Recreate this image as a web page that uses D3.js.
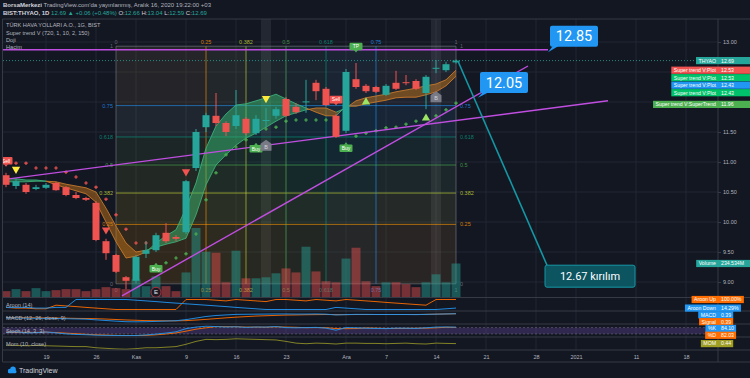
<!DOCTYPE html>
<html>
<head>
<meta charset="utf-8">
<title>THYAO 1G</title>
<script src="https://cdn.jsdelivr.net/npm/d3@7"></script>
<style>
  body { margin: 0; background: #131722; }
  svg { display: block; font-family: "Liberation Sans", Arial, sans-serif; }
</style>
</head>
<body>
<svg id="chart" width="750" height="378"></svg>
<script>
// ---- values (daily bars, index 0 = 13 Oct 2020) ----
var barDates = ["2020-10-13","2020-10-14","2020-10-15","2020-10-16","2020-10-19","2020-10-20","2020-10-21",
    "2020-10-22","2020-10-23","2020-10-26","2020-10-27","2020-10-28","2020-10-30","2020-11-02","2020-11-03",
    "2020-11-04","2020-11-05","2020-11-06","2020-11-09","2020-11-10","2020-11-11","2020-11-12","2020-11-13",
    "2020-11-16","2020-11-17","2020-11-18","2020-11-19","2020-11-20","2020-11-23","2020-11-24","2020-11-25",
    "2020-11-26","2020-11-27","2020-11-30","2020-12-01","2020-12-02","2020-12-03","2020-12-04","2020-12-07",
    "2020-12-08","2020-12-09","2020-12-10","2020-12-11","2020-12-14","2020-12-15","2020-12-16"];
var opens  = [10.78,10.60,10.62,10.55,10.57,10.65,10.58,10.45,10.40,10.32,9.68,9.45,9.08,9.02,9.47,9.53,9.82,9.75,
    9.83,10.90,11.58,11.77,11.65,11.60,11.72,11.48,11.70,11.77,12.05,11.92,12.00,12.32,12.22,11.77,11.52,12.38,
    12.27,12.25,12.12,12.32,12.33,12.35,12.15,12.57,12.53,12.66];
var highs  = [10.82,10.72,10.65,10.62,10.65,10.67,10.60,10.50,10.42,10.35,9.72,9.47,9.10,9.45,9.68,9.82,9.98,9.78,
    10.70,11.55,11.82,12.15,11.68,12.20,11.75,11.78,11.90,11.92,12.08,11.98,12.37,12.37,12.25,11.80,12.55,12.65,
    12.30,12.27,12.30,12.52,12.45,12.38,12.45,12.70,12.67,12.71];
var lows   = [10.58,10.55,10.47,10.53,10.55,10.52,10.43,10.38,10.35,9.68,9.37,9.15,8.88,8.98,9.40,9.50,9.65,9.68,
    9.80,10.85,11.50,11.60,11.43,11.55,11.45,11.45,11.58,11.72,11.75,11.80,11.82,12.03,11.93,11.40,11.48,12.22,
    12.15,12.15,12.10,12.20,12.28,12.20,11.88,12.48,12.50,12.64];
var closes = [10.62,10.68,10.50,10.58,10.62,10.53,10.45,10.40,10.37,9.70,9.48,9.17,9.02,9.42,9.53,9.78,9.68,9.72,
    10.68,11.50,11.78,11.65,11.50,11.78,11.48,11.72,11.70,11.88,11.77,11.83,12.01,12.18,11.95,11.42,12.50,12.25,
    12.18,12.17,12.27,12.22,12.32,12.22,12.42,12.57,12.63,12.69];
var volumes = [41,55,41,62,41,48,55,55,41,55,69,62,55,124,76,145,76,41,172,483,317,310,103,324,131,131,138,166,
    200,172,352,179,110,103,269,345,110,76,103,103,90,69,103,159,103,234.534]; // millions

// Super trend V band lines and trailing stop
var stFast = [10.73,10.72,10.70,10.70,10.68,10.62,10.57,10.52,10.47,10.33,10.00,9.67,9.40,9.43,9.50,9.65,9.77,9.87,
    10.23,10.65,11.23,11.60,11.80,11.95,11.97,12.02,12.07,12.13,12.05,11.97,11.90,11.83,11.77,11.77,11.93,11.93,
    11.97,12.00,12.03,12.07,12.08,12.08,12.12,12.17,12.27,12.43];
var stSlow = [10.67,10.67,10.67,10.68,10.68,10.67,10.63,10.60,10.57,10.50,10.23,9.93,9.65,9.50,9.53,9.58,9.63,9.67,
    9.73,10.12,10.62,10.95,11.12,11.28,11.40,11.48,11.58,11.68,11.77,11.82,11.87,11.90,11.90,11.83,11.90,12.02,
    12.07,12.10,12.13,12.17,12.20,12.23,12.27,12.30,12.37,12.53];
var trailDown = [null,10.98,10.98,10.90,10.90,10.90,10.83,10.75,10.65,10.58,10.38,10.12,9.88,9.65,9.65,null,null,
    null,null,null,null,null,null,null,null,null,null,null,null,null,null,null,null,null,null,null,null,null,null,
    null,null,null,null,null,null,null];
var trailUp = [null,null,null,null,null,null,null,null,null,null,null,null,null,null,null,null,9.32,9.40,9.47,9.80,
    10.37,10.82,11.12,11.25,11.37,null,11.55,11.58,11.68,11.70,11.70,11.70,11.70,null,null,11.43,11.48,11.52,11.57,
    11.58,11.63,11.68,11.73,11.77,11.87,11.98];

var triBars = [1, 10, 18, 26, 36, 42];
var triPrices = [10.88, 9.87, 10.84, 12.06, 12.00, 11.73];
var triUp = [false, false, false, false, true, true];
var triColors = ["#ffeb3b", "#f05350", "#f05350", "#ffeb3b", "#9be564", "#9be564"];

var signalBars = [0, 33, 15, 25, 34, 35];
var signalPrices = [11.02, 12.04, 9.22, 11.22, 11.23, 12.925];
var signalTexts = ["Sell", "Sell", "Buy", "Buy", "Buy", "TP"];
var signalColors = ["#f05350", "#f05350", "#4caf50", "#4caf50", "#4caf50", "#4caf50"];

var houseBars = [26, 43];
var housePrices = [11.27, 12.08];
var dojiBars = [26, 43];
var earningsBar = 15, earningsPrice = 8.83;

// Gann box
var gannLevels = [0, 0.25, 0.382, 0.5, 0.618, 0.75, 1];
var gannColors = ["#787b86", "#ff9800", "#cddc39", "#4caf50", "#089981", "#2196f3", "#787b86"];
var gannStartBar = 11, gannEndBar = 45, gannLow = 8.97, gannHigh = 12.93;

// trend lines (bar index, price)
var trendFromBar = [-1, -0.6, 11.6];
var trendFromPrice = [12.87, 10.70, 8.77];
var trendToBar = [54.2, 60.2, 52.2];
var trendToPrice = [12.87, 12.02, 12.60];

// callouts
var calloutTexts = ["12.85", "12.05"];
var calloutBoxBar = [54.4, 47.4];
var calloutBoxPrice = [13.27, 12.50];
var calloutTipBar = [54.2, 47.2];
var calloutTipPrice = [12.83, 12.07];
var breakText = "12.67 kırılım";
var breakFromBar = 45.2, breakFromPrice = 12.68, breakBoxBar = 53.9, breakBoxPrice = 9.28;

// indicators
var aroonUp = [21,14,14,7,7,43,36,29,21,14,7,0,0,0,0,0,0,0,100,100,100,93,86,100,93,86,79,100,100,93,86,100,93,86,
    100,93,86,79,71,64,57,50,43,100,100,100];
var aroonDown = [21,21,21,14,14,21,21,100,100,100,100,100,100,93,86,79,71,64,57,50,43,36,29,21,14,7,0,0,0,0,0,0,0,
    21,14,7,0,0,0,0,0,0,0,0,7,14.29];
var macd = [0.02,0.01,-0.01,-0.02,-0.03,-0.04,-0.06,-0.08,-0.10,-0.16,-0.22,-0.28,-0.33,-0.34,-0.33,-0.30,-0.27,
    -0.24,-0.14,0.00,0.14,0.23,0.28,0.33,0.34,0.35,0.36,0.37,0.37,0.36,0.36,0.37,0.35,0.28,0.31,0.33,0.33,0.32,0.32,
    0.32,0.32,0.31,0.33,0.35,0.37,0.39];
var macdSignal = [0.05,0.04,0.03,0.02,0.01,0.00,-0.01,-0.03,-0.04,-0.06,-0.09,-0.13,-0.17,-0.20,-0.23,-0.24,-0.25,
    -0.25,-0.23,-0.18,-0.12,-0.05,0.02,0.08,0.13,0.18,0.21,0.24,0.27,0.28,0.30,0.31,0.32,0.31,0.31,0.32,0.32,0.32,
    0.32,0.32,0.32,0.32,0.33,0.35,0.37,0.39];
var stochK = [35,40,30,32,38,30,20,15,12,8,6,5,4,5,10,18,28,40,70,85,93,90,85,88,82,86,85,90,80,78,80,82,75,55,80,
    78,74,72,70,75,74,72,78,85,86,84.1];
var stochD = [38,36,35,34,37,33,27,22,16,12,9,6,5,5,6,11,19,29,46,65,78,89,89,88,85,85,84,87,85,83,79,80,79,71,70,
    71,77,75,72,72,73,74,75,78,83,82.03];
var momentum = [-0.1,-0.2,-0.3,-0.2,-0.3,-0.4,-0.5,-0.6,-0.6,-1.0,-1.2,-1.4,-1.5,-1.3,-1.0,-1.0,-0.8,-0.6,0.2,1.2,
    1.9,1.8,1.9,2.1,2.0,1.9,1.8,1.7,1.2,0.6,0.4,0.6,0.5,0.3,0.6,0.6,0.5,0.5,0.4,0.5,0.6,0.4,0.3,0.6,0.5,0.44];

// axes
var dateTickBars = [4, 9, 13, 18, 23, 28, 34, 38, 43, 48, 53, 57, 63, 68];
var dateTickLabels = ["19", "26", "Kas", "9", "16", "23", "Ara", "7", "14", "21", "28", "2021", "11", "18"];
var priceTicks = [9.0, 9.5, 10.0, 10.5, 11.0, 11.5, 12.0, 12.5, 13.0];

// price-axis tags
var tagNames = ["THYAO", "Super trend V:Plot", "Super trend V:Plot", "Super trend V:Plot", "Super trend V:Plot",
    "Super trend V:SuperTrend"];
var tagValues = [12.69, 12.53, 12.53, 12.43, 12.43, 11.96];
var tagColors = ["#26a69a", "#f05350", "#00c26a", "#2196f3", "#00c26a", "#4caf50"];
var indTagNames = ["Aroon Up", "Aroon Down", "MACD", "Signal", "%K", "%D", "MOM"];
var indTagTexts = ["100.00%", "14.29%", "0.39", "0.39", "84.10", "82.03", "0.44"];
var indTagColors = ["#ff6d00", "#2196f3", "#2196f3", "#ff6d00", "#2196f3", "#ff6d00", "#9e9d24"];

// ---- layout ----
var svg = d3.select("#chart");
var axisX = 718, paneTop = 19, mainBottom = 297.5, timeAxisY = 350, bottomY = 362;
var gridColor = "#232733", sepColor = "#363a45", textColor = "#b2b5be";
var upColor = "#26a69a", downColor = "#ef5350";

var x = d3.scaleLinear().domain([0, 70]).range([6, 706]);
var y = d3.scaleLinear().domain([9, 13]).range([282, 42]);
var yVol = d3.scaleLinear().domain([0, 483]).range([297, 228]);
var yAroon = d3.scaleLinear().domain([0, 100]).range([309.5, 299.5]);
var yMacd = d3.scaleLinear().domain([-0.4, 0.5]).range([322.5, 312.5]);
var yStoch = d3.scaleLinear().domain([0, 100]).range([336, 325.5]);
var yMom = d3.scaleLinear().domain([-1.6, 2.2]).range([349.5, 338.5]);
var idx = d3.range(barDates.length);

svg.append("rect").attr("width", 750).attr("height", 378).attr("fill", "#131722");

var defs = svg.append("defs");
defs.append("clipPath").attr("id", "mainClip").append("rect")
    .attr("x", 3).attr("y", paneTop).attr("width", axisX - 3).attr("height", mainBottom - paneTop);
defs.append("clipPath").attr("id", "stAbove").append("path")
    .attr("d", d3.area().x(function (i) { return x(i); }).y0(0)
        .y1(function (i) { return y(stSlow[i]); })(idx));
defs.append("clipPath").attr("id", "stBelow").append("path")
    .attr("d", d3.area().x(function (i) { return x(i); })
        .y0(function (i) { return y(stSlow[i]); }).y1(400)(idx));

// grid
var grid = svg.append("g");
grid.selectAll(".vg").data(dateTickBars.filter(function (d) { return x(d) < axisX; }))
    .enter().append("line")
    .attr("x1", function (d) { return x(d); }).attr("x2", function (d) { return x(d); })
    .attr("y1", paneTop).attr("y2", timeAxisY).attr("stroke", gridColor);
grid.selectAll(".hg").data(priceTicks).enter().append("line")
    .attr("x1", 3).attr("x2", axisX)
    .attr("y1", function (d) { return y(d); }).attr("y2", function (d) { return y(d); })
    .attr("stroke", gridColor);

var main = svg.append("g").attr("clip-path", "url(#mainClip)");

// doji highlight columns
main.selectAll(".doji").data(dojiBars).enter().append("rect")
    .attr("x", function (d) { return x(d) - 5; }).attr("width", 10)
    .attr("y", paneTop).attr("height", mainBottom - paneTop)
    .attr("fill", "#ffffff").attr("opacity", 0.07);

// Gann box
var gbx = function (l) { return x(Math.round(gannStartBar + l * (gannEndBar - gannStartBar))); };
var gby = function (l) { return y(gannLow + l * (gannHigh - gannLow)); };
var gann = main.append("g");
gannLevels.slice(1).forEach(function (l, k) {
    var prev = gannLevels[k];
    gann.append("rect").attr("x", gbx(0)).attr("width", gbx(1) - gbx(0))
        .attr("y", gby(l)).attr("height", gby(prev) - gby(l))
        .attr("fill", gannColors[k + 1]).attr("opacity", 0.08);
    gann.append("rect").attr("x", gbx(prev)).attr("width", gbx(l) - gbx(prev))
        .attr("y", gby(1)).attr("height", gby(0) - gby(1))
        .attr("fill", gannColors[k + 1]).attr("opacity", 0.05);
});
gannLevels.forEach(function (l, k) {
    gann.append("line").attr("x1", gbx(0)).attr("x2", gbx(1)).attr("y1", gby(l)).attr("y2", gby(l))
        .attr("stroke", gannColors[k]).attr("stroke-opacity", 0.6);
    gann.append("line").attr("x1", gbx(l)).attr("x2", gbx(l)).attr("y1", gby(0)).attr("y2", gby(1))
        .attr("stroke", gannColors[k]).attr("stroke-opacity", 0.6);
    var txt = String(l);
    gann.append("text").attr("x", gbx(l)).attr("y", gby(1) - 2).attr("text-anchor", "middle")
        .attr("font-size", 5.5).attr("fill", gannColors[k]).attr("fill-opacity", 0.8).text(txt);
    gann.append("text").attr("x", gbx(l)).attr("y", gby(0) + 8).attr("text-anchor", "middle")
        .attr("font-size", 5.5).attr("fill", gannColors[k]).attr("fill-opacity", 0.8).text(txt);
    gann.append("text").attr("x", gbx(0) - 3).attr("y", gby(l) + 2).attr("text-anchor", "end")
        .attr("font-size", 5.5).attr("fill", gannColors[k]).attr("fill-opacity", 0.8).text(txt);
    gann.append("text").attr("x", gbx(1) + 4).attr("y", gby(l) + 2).attr("text-anchor", "start")
        .attr("font-size", 5.5).attr("fill", gannColors[k]).attr("fill-opacity", 0.8).text(txt);
});

// volume
main.selectAll(".vol").data(idx).enter().append("rect")
    .attr("x", function (i) { return x(i) - 4.5; }).attr("width", 9)
    .attr("y", function (i) { return yVol(volumes[i]); })
    .attr("height", function (i) { return yVol(0) - yVol(volumes[i]); })
    .attr("fill", function (i) { return closes[i] >= opens[i] ? upColor : downColor; })
    .attr("opacity", 0.45);

// super trend band
var band = d3.area().x(function (i) { return x(i); })
    .y0(function (i) { return y(stFast[i]); }).y1(function (i) { return y(stSlow[i]); });
main.append("g").attr("clip-path", "url(#stAbove)").append("path")
    .attr("d", band(idx)).attr("fill", "rgba(60,200,120,0.45)");
main.append("g").attr("clip-path", "url(#stBelow)").append("path")
    .attr("d", band(idx)).attr("fill", "rgba(210,125,25,0.45)");
[stFast, stSlow].forEach(function (series) {
    main.selectAll(null).data(idx.slice(1)).enter().append("line")
        .attr("x1", function (i) { return x(i - 1); }).attr("x2", function (i) { return x(i); })
        .attr("y1", function (i) { return y(series[i - 1]); }).attr("y2", function (i) { return y(series[i]); })
        .attr("stroke", function (i) { return stFast[i] >= stSlow[i] ? "#3bb07a" : "#c8782a"; })
        .attr("stroke-width", 0.9);
});

// trailing stop crosses
var cross = d3.symbol().type(d3.symbolCross).size(7);
main.selectAll(".tdn").data(idx.filter(function (i) { return trailDown[i] !== null; }))
    .enter().append("path").attr("d", cross)
    .attr("transform", function (i) { return "translate(" + x(i) + "," + y(trailDown[i]) + ")"; })
    .attr("fill", "#f05350");
main.selectAll(".tup").data(idx.filter(function (i) { return trailUp[i] !== null; }))
    .enter().append("path").attr("d", cross)
    .attr("transform", function (i) { return "translate(" + x(i) + "," + y(trailUp[i]) + ")"; })
    .attr("fill", "#4caf50");

// trend lines
main.selectAll(".trend").data(trendFromBar).enter().append("line")
    .attr("x1", function (d, k) { return x(trendFromBar[k]); })
    .attr("y1", function (d, k) { return y(trendFromPrice[k]); })
    .attr("x2", function (d, k) { return x(trendToBar[k]); })
    .attr("y2", function (d, k) { return y(trendToPrice[k]); })
    .attr("stroke", "#c04ee0").attr("stroke-width", 1.4);

// candles
var candles = main.selectAll(".candle").data(idx).enter().append("g");
candles.append("line")
    .attr("x1", function (i) { return x(i); }).attr("x2", function (i) { return x(i); })
    .attr("y1", function (i) { return y(highs[i]); }).attr("y2", function (i) { return y(lows[i]); })
    .attr("stroke", function (i) { return closes[i] >= opens[i] ? upColor : downColor; });
candles.append("rect")
    .attr("x", function (i) { return x(i) - 3.5; }).attr("width", 7)
    .attr("y", function (i) { return y(Math.max(opens[i], closes[i])); })
    .attr("height", function (i) { return Math.max(1, Math.abs(y(opens[i]) - y(closes[i]))); })
    .attr("fill", function (i) { return closes[i] >= opens[i] ? upColor : downColor; });

// triangles
main.selectAll(".tri").data(triBars).enter().append("path")
    .attr("d", d3.symbol().type(d3.symbolTriangle).size(30))
    .attr("transform", function (d, k) {
        return "translate(" + x(d) + "," + y(triPrices[k]) + ")" + (triUp[k] ? "" : " rotate(180)");
    })
    .attr("fill", function (d, k) { return triColors[k]; });

// buy / sell / tp labels
var sig = main.selectAll(".sig").data(signalBars).enter().append("g")
    .attr("transform", function (d, k) { return "translate(" + x(d) + "," + y(signalPrices[k]) + ")"; });
sig.append("path")
    .attr("d", function (d, k) {
        return signalTexts[k] === "Buy" ? "M-2,-3.5L0,-6L2,-3.5Z" : "M-2,3.5L0,6L2,3.5Z";
    })
    .attr("fill", function (d, k) { return signalColors[k]; });
sig.append("rect").attr("x", -6.5).attr("y", -3.8).attr("width", 13).attr("height", 7.6).attr("rx", 1)
    .attr("fill", function (d, k) { return signalColors[k]; });
sig.append("text").attr("text-anchor", "middle").attr("y", 1.8).attr("font-size", 5)
    .attr("fill", "#ffffff").text(function (d, k) { return signalTexts[k]; });

var house = main.selectAll(".house").data(houseBars).enter().append("g")
    .attr("transform", function (d, k) { return "translate(" + x(d) + "," + y(housePrices[k]) + ")"; });
house.append("path").attr("d", "M0,-6L5.5,-2L5.5,5L-5.5,5L-5.5,-2Z").attr("fill", "#787b86");
house.append("text").attr("text-anchor", "middle").attr("y", 3).attr("font-size", 5.5)
    .attr("fill", "#d1d4dc").text("B");

var earn = main.append("g")
    .attr("transform", "translate(" + x(earningsBar) + "," + y(earningsPrice) + ")");
earn.append("circle").attr("r", 5).attr("fill", "#1e1a24").attr("stroke", "#b03040").attr("stroke-width", 1);
earn.append("text").attr("text-anchor", "middle").attr("y", 2.2).attr("font-size", 6)
    .attr("fill", "#e8e8ee").text("E");

// last price line
var lastY = y(closes[closes.length - 1]);
svg.append("line").attr("x1", 3).attr("x2", axisX).attr("y1", lastY).attr("y2", lastY)
    .attr("stroke", upColor).attr("stroke-dasharray", "1,2").attr("stroke-width", 0.8);

// callouts
calloutTexts.forEach(function (t, k) {
    var bx = x(calloutBoxBar[k]), by = y(calloutBoxPrice[k]);
    svg.append("path")
        .attr("d", "M" + (bx + 3) + "," + (by + 20) + "L" + x(calloutTipBar[k]) + "," + y(calloutTipPrice[k]) +
            "L" + (bx + 9) + "," + (by + 20) + "Z")
        .attr("fill", "#2196f3");
    svg.append("rect").attr("x", bx).attr("y", by).attr("width", 48).attr("height", 21).attr("rx", 2)
        .attr("fill", "#2196f3");
    svg.append("text").attr("x", bx + 24).attr("y", by + 15.5).attr("text-anchor", "middle")
        .attr("font-size", 14.5).attr("font-family", "Roboto, sans-serif").attr("fill", "#ffffff").text(t);
});
var bbx = x(breakBoxBar), bby = y(breakBoxPrice);
svg.append("line").attr("x1", x(breakFromBar)).attr("y1", y(breakFromPrice)).attr("x2", bbx + 2).attr("y2", bby)
    .attr("stroke", "#1597a5").attr("stroke-width", 1.6);
svg.append("rect").attr("x", bbx).attr("y", bby).attr("width", 90).attr("height", 22).attr("rx", 2)
    .attr("fill", "#0c5460").attr("stroke", "#1597a5").attr("stroke-width", 1);
svg.append("text").attr("x", bbx + 45).attr("y", bby + 15).attr("text-anchor", "middle")
    .attr("font-size", 11).attr("font-family", "Roboto, sans-serif").attr("fill", "#ffffff").text(breakText);

// ---- indicator panes ----
svg.append("rect").attr("x", 3).attr("width", axisX - 3)
    .attr("y", yStoch(80)).attr("height", yStoch(20) - yStoch(80))
    .attr("fill", "#7e57c2").attr("opacity", 0.28);
[80, 20].forEach(function (v) {
    svg.append("line").attr("x1", 3).attr("x2", axisX).attr("y1", yStoch(v)).attr("y2", yStoch(v))
        .attr("stroke", "#787b86").attr("stroke-dasharray", "2,2").attr("stroke-width", 0.5);
});
var indSeries = [
    [aroonUp, yAroon, "#ff6d00"], [aroonDown, yAroon, "#2196f3"],
    [macdSignal, yMacd, "#ff6d00"], [macd, yMacd, "#2196f3"],
    [stochD, yStoch, "#ff6d00"], [stochK, yStoch, "#2196f3"],
    [momentum, yMom, "#8f8f26"]
];
indSeries.forEach(function (s) {
    svg.append("path")
        .attr("d", d3.line().x(function (i) { return x(i); }).y(function (i) { return s[1](s[0][i]); })(idx))
        .attr("fill", "none").attr("stroke", s[2]).attr("stroke-width", 0.9);
});

// pane separators and frame
[paneTop, mainBottom, 311, 324, 337, timeAxisY, bottomY].forEach(function (yy) {
    svg.append("line").attr("x1", 2.5).attr("x2", 750).attr("y1", yy).attr("y2", yy).attr("stroke", sepColor);
});
svg.append("line").attr("x1", 2.5).attr("x2", 2.5).attr("y1", paneTop).attr("y2", bottomY).attr("stroke", sepColor);
svg.append("line").attr("x1", axisX).attr("x2", axisX).attr("y1", paneTop).attr("y2", bottomY).attr("stroke", sepColor);

// axes
var xAxis = d3.axisBottom(x).tickValues(dateTickBars)
    .tickFormat(function (d, i) { return dateTickLabels[i]; }).tickSize(0).tickPadding(5);
var gX = svg.append("g").attr("transform", "translate(0," + timeAxisY + ")").call(xAxis);
gX.select(".domain").remove();
gX.attr("font-size", 5.5).attr("font-family", null);
gX.selectAll("text").attr("fill", textColor);

function stack(ys, gap) {
    var out = [];
    ys.forEach(function (v, k) { out.push(k > 0 && v < out[k - 1] + gap ? out[k - 1] + gap : v); });
    return out;
}
var tagYs = stack(tagValues.map(function (v) { return y(v); }), 7.5);

var yAxis = d3.axisRight(y).tickValues(priceTicks).tickFormat(d3.format(".2f")).tickSize(3).tickPadding(2);
var gY = svg.append("g").attr("transform", "translate(" + axisX + ",0)").call(yAxis);
gY.select(".domain").remove();
gY.attr("font-size", 5.5).attr("font-family", null);
gY.selectAll("text").attr("fill", textColor);
gY.selectAll("line").attr("stroke", sepColor);
// tick labels hidden under the price tags, as on the original
gY.selectAll(".tick").filter(function (d) {
    return tagYs.some(function (t) { return Math.abs(y(d) - t) < 6.5; });
}).select("text").remove();

// pane legends
var legend = svg.append("g").attr("font-size", 5.6).attr("fill", textColor);
[["TÜRK HAVA YOLLARI A.O., 1G, BIST", 27], ["Super trend V (720, 1, 10, 2, 150)", 35], ["Doji", 42],
    ["Hacim", 48.5], ["Aroon (14)", 306.5], ["MACD (12, 26, close, 9)", 320], ["Stoch (14, 3, 3)", 333],
    ["Mom (10, close)", 346]].forEach(function (l) {
    legend.append("text").attr("x", 6).attr("y", l[1]).text(l[0]);
});

// price-axis tags
function drawTag(name, value, color, yy, rightEdge) {
    var g = svg.append("g");
    var r = g.append("rect").attr("y", yy - 3.6).attr("height", 7.2).attr("fill", color);
    var n = g.append("text").attr("x", axisX - 2).attr("y", yy + 1.9).attr("text-anchor", "end")
        .attr("font-size", 5.2).attr("fill", "#ffffff").text(name);
    var v = g.append("text").attr("x", axisX + 3).attr("y", yy + 1.9)
        .attr("font-size", 5.2).attr("fill", "#ffffff").text(value);
    var nb = n.node().getBBox(), vb = v.node().getBBox();
    var right = rightEdge || (vb.x + vb.width + 2);
    r.attr("x", nb.x - 2.5).attr("width", right - nb.x + 2.5);
}
tagNames.forEach(function (nm, k) {
    drawTag(nm, tagValues[k].toFixed(2), tagColors[k], tagYs[k], 750);
});
drawTag("Volume", "234.534M", upColor, yVol(volumes[volumes.length - 1]), 750);

var indYs = [yAroon(100), yAroon(14.29), yMacd(0.39), yMacd(0.39), yStoch(84.1), yStoch(82.03), yMom(0.44)];
indYs = stack(indYs, 6.8);
indTagNames.forEach(function (nm, k) {
    drawTag(nm, indTagTexts[k], indTagColors[k], indYs[k]);
});

// header
var h1 = svg.append("text").attr("x", 3).attr("y", 7).attr("font-size", 6).attr("fill", textColor);
h1.append("tspan").attr("font-weight", "bold").attr("fill", "#d1d4dc").text("BorsaMerkezi");
h1.append("tspan").text(" TradingView.com'da yayınlanmış, Aralık 16, 2020 19:22:00 +03");
var h2 = svg.append("text").attr("x", 3).attr("y", 15).attr("font-size", 6).attr("fill", textColor);
h2.append("tspan").attr("font-weight", "bold").attr("fill", "#d1d4dc").text("BIST:THYAO, 1D");
h2.append("tspan").attr("fill", upColor).text(" 12.69 ▲ +0.06 (+0.48%) ");
[["O:", "12.66"], ["H:", "13.04"], ["L:", "12.59"], ["C:", "12.69"]].forEach(function (p) {
    h2.append("tspan").attr("fill", "#d1d4dc").text(" " + p[0]);
    h2.append("tspan").attr("fill", upColor).text(p[1]);
});

// logo
var logo = svg.append("g").attr("transform", "translate(8,370)");
logo.append("circle").attr("cx", 2).attr("cy", 1).attr("r", 2.2).attr("fill", "#2196f3");
logo.append("circle").attr("cx", 5).attr("cy", -0.8).attr("r", 2.8).attr("fill", "#2196f3");
logo.append("rect").attr("x", 0).attr("y", 0).attr("width", 8.5).attr("height", 3.2).attr("rx", 1.5).attr("fill", "#2196f3");
svg.append("text").attr("x", 19).attr("y", 373).attr("font-size", 7).attr("fill", "#d1d4dc").text("TradingView");
</script>
</body>
</html>
